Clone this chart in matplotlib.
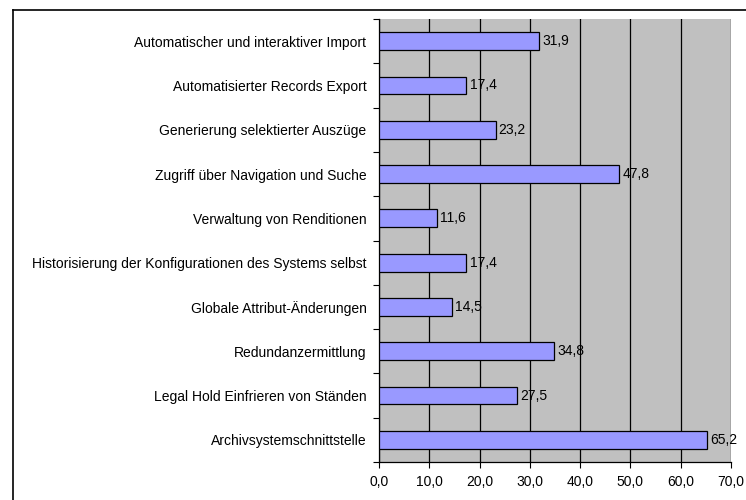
import matplotlib.pyplot as plt
from matplotlib.lines import Line2D

plt.rcParams['font.family'] = ['Liberation Sans', 'DejaVu Sans']

categories = [
    "Automatischer und interaktiver Import",
    "Automatisierter Records Export",
    "Generierung selektierter Auszüge",
    "Zugriff über Navigation und Suche",
    "Verwaltung von Renditionen",
    "Historisierung der Konfigurationen des Systems selbst",
    "Globale Attribut-Änderungen",
    "Redundanzermittlung",
    "Legal Hold Einfrieren von Ständen",
    "Archivsystemschnittstelle",
]
values = [31.9, 17.4, 23.2, 47.8, 11.6, 17.4, 14.5, 34.8, 27.5, 65.2]
xticks = [0, 10, 20, 30, 40, 50, 60, 70]

fs = 10


def fmt(v):
    return f"{v:.1f}".replace(".", ",")


def main():
    fig = plt.figure(figsize=(7.46, 5.0), dpi=100)
    ax = fig.add_axes([379 / 746, 1 - 462 / 500, (731 - 379) / 746, (462 - 19) / 500])

    ax.set_facecolor("#C0C0C0")
    n = len(categories)
    ypos = list(range(n))
    ax.barh(ypos, values, height=0.4, color="#9999FF", edgecolor="#000000",
            linewidth=0.9, zorder=3)
    for y, v in zip(ypos, values):
        ax.text(v + 0.6, y, fmt(v), va="center", ha="left", fontsize=fs, zorder=4)

    ax.set_xlim(0, 70)
    ax.set_ylim(n - 0.5, -0.5)
    ax.set_xticks(xticks)
    ax.set_xticklabels([fmt(t) for t in xticks], fontsize=fs)
    ax.xaxis.grid(True, color="#000000", linewidth=0.9, zorder=1)

    # category labels centred on bars, tick marks between bands
    ax.set_yticks(ypos)
    ax.set_yticklabels(categories, fontsize=fs)
    ax.tick_params(axis="y", length=0, pad=9)
    ax.set_yticks([i - 0.5 for i in range(n + 1)], minor=True)
    ax.tick_params(axis="y", which="minor", length=4, width=0.8)
    ax.tick_params(axis="x", length=4, width=0.8, pad=5)

    for side in ["top", "right"]:
        ax.spines[side].set_visible(False)
    ax.spines["left"].set_linewidth(0.9)
    ax.spines["bottom"].set_linewidth(0.9)

    # chart area frame, open towards right and bottom
    fx0, fy0 = 13 / 746, 1 - 10 / 500
    fig.add_artist(Line2D([fx0, 1.0], [fy0, fy0], color="black", linewidth=1.2,
                          transform=fig.transFigure))
    fig.add_artist(Line2D([fx0, fx0], [fy0, 0.0], color="black", linewidth=1.2,
                          transform=fig.transFigure))

    fig.savefig("out.png", dpi=100)


if __name__ == "__main__":
    main()
